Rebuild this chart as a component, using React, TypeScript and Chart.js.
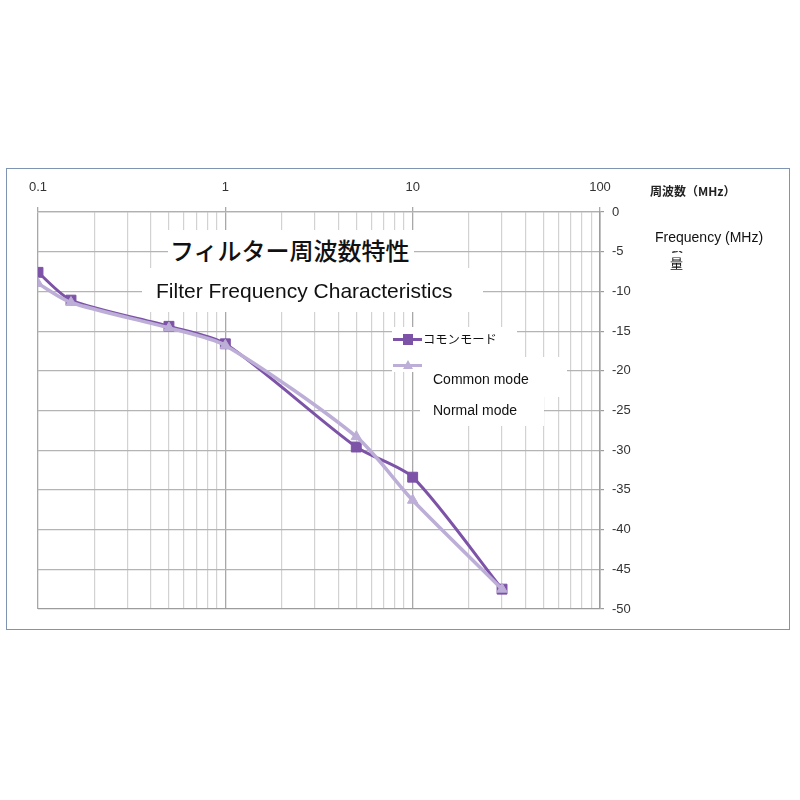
import React, { useEffect, useRef } from "react";
import { Chart, registerables } from "chart.js";

Chart.register(...registerables);

// ---- data ----
const frequencies = [0.1, 0.15, 0.5, 1, 5, 10, 30];
const commonMode = [-7.6, -11.1, -14.4, -16.6, -29.6, -33.4, -47.5];
const normalMode = [-9.0, -11.4, -14.6, -16.8, -28.3, -36.3, -47.5];
const xTickLabels = ["0.1", "1", "10", "100"];
const xMin = 0.1;
const xMax = 100;
const yMin = -50;
const yMax = 0;
const yStep = 5;
const seriesNames = ["コモンモード", "Common mode", "Normal mode"];

const DARK = "#7d53a8";
const LIGHT = "#bcaed6";
const FONT = "'Liberation Sans', Arial, sans-serif";
const CJK = "'Noto Sans CJK JP', 'Noto Sans', sans-serif";

const isPow10 = (v: number) => {
  const l = Math.log10(v);
  return Math.abs(l - Math.round(l)) < 1e-6;
};

export default function App() {
  const ref = useRef<HTMLCanvasElement | null>(null);

  useEffect(() => {
    if (!ref.current) return;
    const chart = new Chart(ref.current, {
      type: "line",
      data: {
        datasets: [
          {
            label: seriesNames[1],
            data: frequencies.map((f, i) => ({ x: f, y: commonMode[i] })),
            borderColor: DARK,
            backgroundColor: DARK,
            borderWidth: 3,
            pointStyle: "rect",
            pointRadius: 7,
            pointBorderWidth: 1,
            pointBackgroundColor: DARK,
            pointBorderColor: DARK,
            tension: 0.25,
            order: 1,
          },
          {
            label: seriesNames[2],
            data: frequencies.map((f, i) => ({ x: f, y: normalMode[i] })),
            borderColor: LIGHT,
            backgroundColor: LIGHT,
            borderWidth: 3.5,
            pointStyle: "triangle",
            pointRadius: 6,
            pointBorderWidth: 1,
            pointBackgroundColor: LIGHT,
            pointBorderColor: LIGHT,
            tension: 0.25,
            order: 0,
          },
        ],
      },
      options: {
        animation: false,
        responsive: true,
        maintainAspectRatio: false,
        layout: { padding: { left: 31, right: 0, top: 0, bottom: 20 } },
        plugins: {
          legend: { display: false },
          tooltip: { enabled: false },
          title: { display: false },
        },
        scales: {
          x: {
            type: "logarithmic",
            position: "top",
            min: xMin,
            max: xMax,
            afterBuildTicks: (scale: any) => {
              const ticks: any[] = [];
              for (let d = Math.log10(xMin); d < Math.log10(xMax); d++) {
                const base = Math.pow(10, d);
                for (let m = 1; m < 10; m++) {
                  ticks.push({ value: Number((base * m).toPrecision(6)) });
                }
              }
              ticks.push({ value: xMax });
              scale.ticks = ticks;
            },
            afterFit: (scale: any) => {
              scale.height = 43;
            },
            ticks: {
              autoSkip: false,
              maxRotation: 0,
              minRotation: 0,
              padding: 12,
              color: "#333333",
              font: { family: FONT, size: 13 },
              callback: (value: any) => {
                const s = String(Number(Number(value).toPrecision(6)));
                return xTickLabels.includes(s) ? s : "";
              },
            },
            grid: {
              color: (ctx: any) =>
                ctx.tick && isPow10(ctx.tick.value) ? "#a8a8a8" : "#d2d2d2",
              tickColor: (ctx: any) =>
                ctx.tick && isPow10(ctx.tick.value) ? "#a8a8a8" : "rgba(0,0,0,0)",
              lineWidth: (ctx: any) =>
                ctx.tick && isPow10(ctx.tick.value) ? 1.3 : 1.2,
              tickLength: 5,
              drawTicks: true,
            },
            border: { display: true, color: "#b0b0b0", width: 1.2 },
          },
          y: {
            type: "linear",
            position: "right",
            min: yMin,
            max: yMax,
            afterFit: (scale: any) => {
              scale.width = 189;
            },
            ticks: {
              stepSize: yStep,
              padding: 8,
              color: "#333333",
              font: { family: FONT, size: 13 },
            },
            grid: {
              color: (ctx: any) =>
                ctx.tick && ctx.tick.value === yMin ? "#9c9c9c" : "#b4b4b4",
              lineWidth: 1.2,
              tickLength: 4,
              tickColor: "#9c9c9c",
            },
            border: { display: true, color: "#9c9c9c", width: 1.5 },
          },
        },
      },
    });
    return () => chart.destroy();
  }, []);

  const abs = (s: React.CSSProperties): React.CSSProperties => ({
    position: "absolute",
    whiteSpace: "nowrap",
    ...s,
  });

  return (
    <div style={{ position: "absolute", left: 0, top: 0, width: 800, height: 800 }}>
      <div
        style={abs({
          left: 6,
          top: 168,
          width: 784,
          height: 462,
          boxSizing: "border-box",
          border: "1px solid #7f94b3",
          background: "#ffffff",
        })}
      />
      <div style={abs({ left: 7, top: 169, width: 782, height: 460 })}>
        <canvas ref={ref} />
      </div>

      {/* white boxes behind overlay texts */}
      <div style={abs({ left: 168, top: 230, width: 246, height: 38, background: "#fff" })} />
      <div style={abs({ left: 142, top: 268, width: 341, height: 44, background: "#fff" })} />
      <div style={abs({ left: 392, top: 327, width: 125, height: 45, background: "#fff" })} />
      <div style={abs({ left: 420, top: 357, width: 147, height: 40, background: "#fff" })} />
      <div style={abs({ left: 420, top: 397, width: 124, height: 29, background: "#fff" })} />

      {/* titles */}
      <div
        style={abs({
          left: 170,
          top: 238,
          fontFamily: CJK,
          fontSize: 24,
          lineHeight: "24px",
          color: "#111",
          fontWeight: 500,
        })}
      >
        フィルター周波数特性
      </div>
      <div
        style={abs({
          left: 156,
          top: 279,
          fontFamily: FONT,
          fontSize: 21,
          lineHeight: "24px",
          color: "#111",
        })}
      >
        Filter Frequency Characteristics
      </div>

      {/* legend */}
      <div style={abs({ left: 393, top: 338, width: 29, height: 3, background: DARK })} />
      <div style={abs({ left: 403, top: 334, width: 10, height: 11, background: DARK })} />
      <div style={abs({ left: 393, top: 364, width: 29, height: 3, background: LIGHT })} />
      <div
        style={abs({
          left: 403,
          top: 360,
          width: 0,
          height: 0,
          borderLeft: "5px solid transparent",
          borderRight: "5px solid transparent",
          borderBottom: "9px solid " + LIGHT,
        })}
      />
      <div
        style={abs({
          left: 423,
          top: 332,
          fontFamily: CJK,
          fontSize: 12.3,
          lineHeight: "14px",
          color: "#111",
        })}
      >
        {seriesNames[0]}
      </div>
      <div
        style={abs({
          left: 433,
          top: 370.5,
          fontFamily: FONT,
          fontSize: 14,
          lineHeight: "16px",
          color: "#111",
        })}
      >
        {seriesNames[1]}
      </div>
      <div
        style={abs({
          left: 433,
          top: 402,
          fontFamily: FONT,
          fontSize: 14,
          lineHeight: "16px",
          color: "#111",
        })}
      >
        {seriesNames[2]}
      </div>

      {/* axis captions on the right */}
      <div
        style={abs({
          left: 650,
          top: 184,
          fontFamily: CJK,
          fontSize: 12,
          lineHeight: "14px",
          fontWeight: 700,
          color: "#222",
        })}
      >
        周波数（MHz）
      </div>
      <div
        style={abs({
          left: 655,
          top: 229,
          fontFamily: FONT,
          fontSize: 14,
          lineHeight: "16px",
          color: "#111",
        })}
      >
        Frequency (MHz)
      </div>
      <div style={abs({ left: 669, top: 251, width: 16, height: 22, overflow: "hidden" })}>
        <div
          style={{
            position: "absolute",
            left: 1,
            top: -14.3,
            fontFamily: CJK,
            fontSize: 13,
            lineHeight: "17px",
            color: "#111",
          }}
        >
          <div>衰</div>
          <div>量</div>
        </div>
      </div>
    </div>
  );
}
